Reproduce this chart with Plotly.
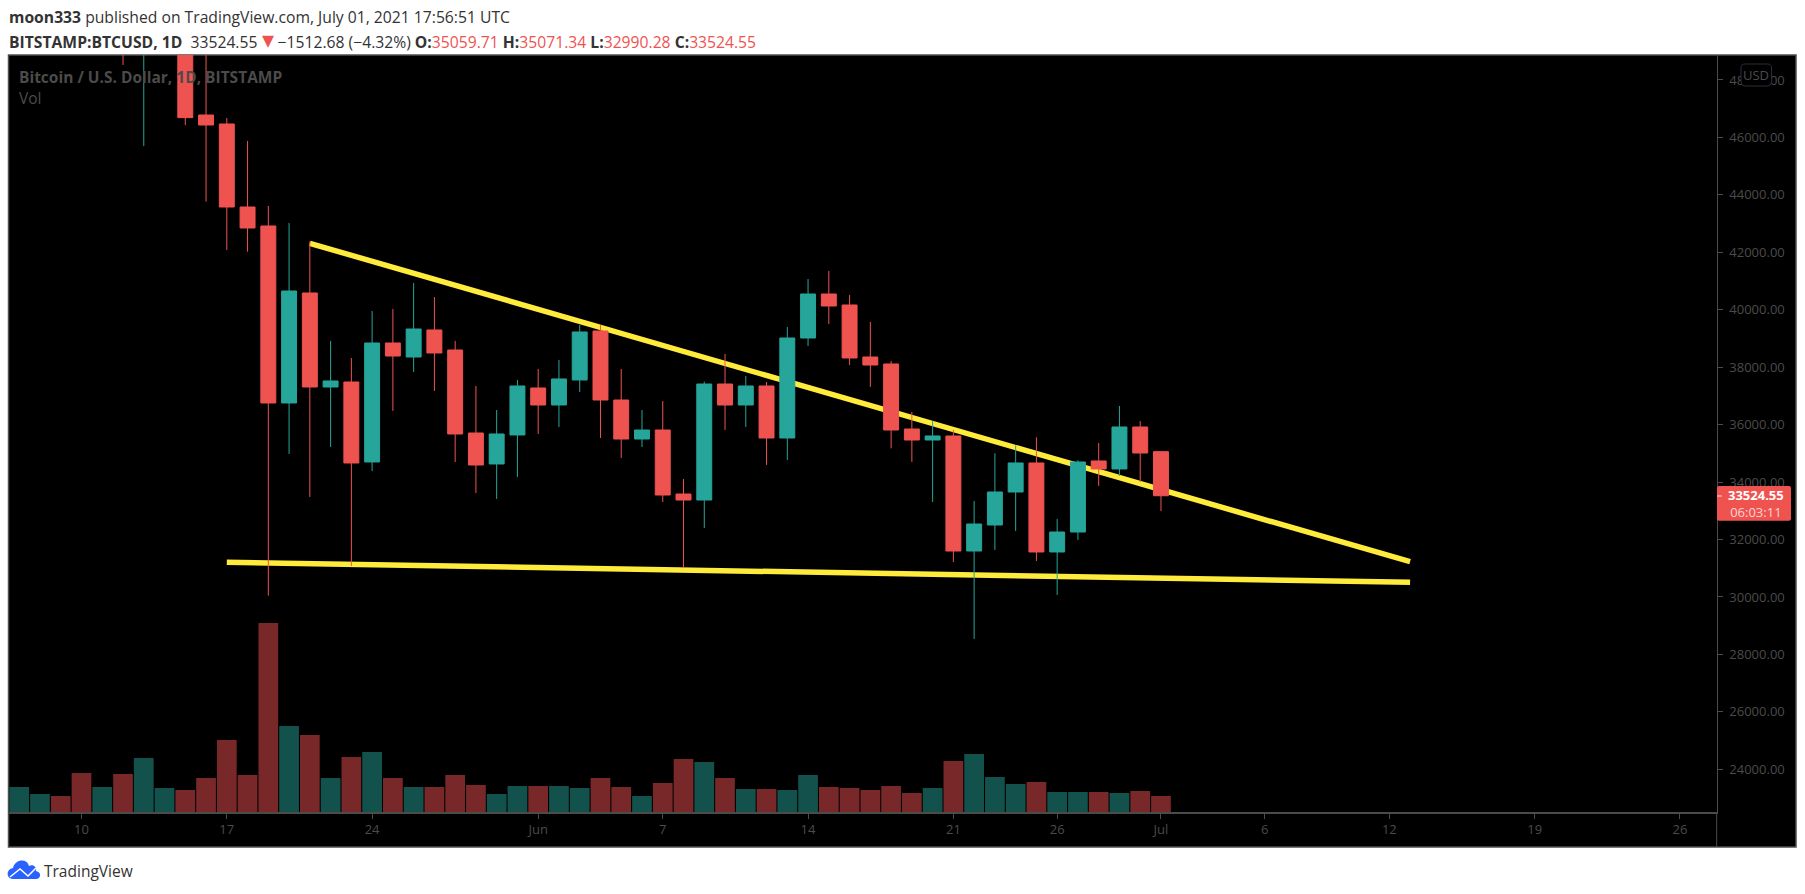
import plotly.graph_objects as go

W = 1805
H = 894

# daily candles (None = outside the visible price range)
dates = ['2021-05-%02d' % d for d in range(7, 32)] + ['2021-06-%02d' % d for d in range(1, 31)] + ['2021-07-01']
opens = [None, None, None, None, None, 56700, 49400, 49700, 49900, 46781, 46468, 43578, 42917, 36754, 40584,
         37311, 37485, 34700, 38843, 38355, 39296, 38599, 35709, 34630, 35640,
         37276, 36684, 37555, 39261, 36858, 35500, 35813, 33585, 33376, 37415, 36684, 37346, 35535, 39017, 40549,
         40166, 38355, 38112, 35848, 35465, 35605, 31600, 32506, 33655, 34665, 31566, 32262, 34735, 34456, 35918,
         35059.71]
highs = [None, None, None, None, None, 58000, 51500, 51500, 50600, 49800, 46677, 45876, 43613, 43021, 42380,
         38913, 38320, 39957, 40027, 40932, 40444, 38913, 37346, 36510, 37554,
         37938, 38251, 39470, 39470, 37938, 36510, 36823, 34108, 37500, 38460, 37694, 37485, 39400, 41071, 41350,
         40514, 39574, 38216, 36440, 36130, 35814, 33342, 35001, 35280, 35559, 32715, 34760, 35362, 36650, 36127,
         35071.34]
lows = [None, None, None, None, None, 48520, 45700, 48900, 46433, 43764, 42081, 42023, 30046, 34978, 33481,
        35222, 31079, 34386, 36476, 37833, 37172, 34700, 33620, 33412, 34178,
        35675, 35918, 37137, 35535, 34840, 35222, 33307, 31032, 32401, 35813, 35918, 34595, 34770, 38738, 39505,
        38077, 37311, 35175, 34700, 33307, 31218, 28540, 31636, 32297, 31252, 30070, 31984, 33865, 34212, 34003,
        32990.28]
closes = [None, None, None, None, None, 49400, 49700, 49900, 46689, 46433, 43578, 42847, 36754, 40653, 37311,
          37520, 34665, 38843, 38390, 39330, 38495, 35675, 34595, 35675, 37346,
          36684, 37590, 39226, 36858, 35500, 35813, 33550, 33376, 37415, 36684, 37346, 35535, 39017, 40549, 40131,
          38321, 38077, 35813, 35465, 35605, 31600, 32540, 33655, 34665, 31566, 32262, 34700, 34456, 35918, 35013,
          33524.55]
volumes = [8750, 6300, 5600, 13650, 8750, 13300, 18900, 8400, 7700, 11900, 25200, 12950, 66150, 30100, 26950,
           11900, 19250, 21000, 11900, 8750, 8750, 12950, 9450, 6300, 9100,
           9100, 9100, 8400, 11900, 8750, 5600, 10150, 18550, 17500, 11900, 8050, 8050, 7700, 12950, 8750,
           8400, 7700, 9100, 6650, 8400, 17850, 20300, 12250, 9800, 10500, 7000, 7000, 7000, 6650, 7350, 5600]
vol_up = [True, True, False, False, True, False, True, True, False, False, False, False, False, True, False,
          True, False, True, False, True, False, False, False, True, True,
          False, True, True, False, False, True, False, False, True, False, True, False, True, True, False,
          False, False, False, False, True, False, True, True, True, False, True, True, False, True, False, False]

# the two drawn trend lines
upper_dates = ['2021-05-21', '2021-07-13']
upper_prices = [42314, 31227]
lower_dates = ['2021-05-17', '2021-07-13']
lower_prices = [31206, 30510]

price_ticks = [24000, 26000, 28000, 30000, 32000, 34000, 36000, 38000, 40000, 42000, 44000, 46000, 48000]
time_ticks = ['2021-05-10', '2021-05-17', '2021-05-24', '2021-06-01', '2021-06-07', '2021-06-14', '2021-06-21',
              '2021-06-26', '2021-07-01', '2021-07-06', '2021-07-12', '2021-07-19', '2021-07-26']
time_labels = ['10', '17', '24', 'Jun', '7', '14', '21', '26', 'Jul', '6', '12', '19', '26']

UP = '#26a69a'
DOWN = '#ef5350'
YELLOW = '#ffeb3b'
GREY = '#4b4b4b'
FONT = 'Open Sans'


def px(x):
    return x / W


def py(y):
    return 1 - y / H


def round_rect(x0, y0, x1, y1, r):
    # rounded box as an svg path, pixel values from the top left corner
    pts = [('M', x0 + r, y0), ('L', x1 - r, y0), ('Q', x1, y0, x1, y0 + r), ('L', x1, y1 - r),
           ('Q', x1, y1, x1 - r, y1), ('L', x0 + r, y1), ('Q', x0, y1, x0, y1 - r), ('L', x0, y0 + r),
           ('Q', x0, y0, x0 + r, y0)]
    out = ''
    for p in pts:
        out += p[0] + ' '
        for i in range(1, len(p), 2):
            out += '%f,%f ' % (px(p[i]), py(p[i + 1]))
    return out + 'Z'


fig = go.Figure()

fig.add_trace(go.Bar(x=dates, y=volumes, yaxis='y',
                     marker=dict(color=['#13524c' if u else '#782828' for u in vol_up], line_width=0),
                     hoverinfo='skip'))
fig.add_trace(go.Scatter(x=upper_dates, y=upper_prices, yaxis='y2', mode='lines',
                         line=dict(color=YELLOW, width=5.5)))
fig.add_trace(go.Scatter(x=lower_dates, y=lower_prices, yaxis='y2', mode='lines',
                         line=dict(color=YELLOW, width=5.5)))
fig.add_trace(go.Candlestick(x=dates, open=opens, high=highs, low=lows, close=closes, yaxis='y3',
                             whiskerwidth=0,
                             increasing=dict(line=dict(color=UP, width=1), fillcolor=UP),
                             decreasing=dict(line=dict(color=DOWN, width=1), fillcolor=DOWN)))

price_range = [22513, 48870]

fig.update_layout(
    width=W, height=H, margin=dict(l=0, r=0, t=0, b=0),
    paper_bgcolor='white', plot_bgcolor='black', showlegend=False,
    boxgap=0.28, boxgroupgap=0, bargap=0.05,
    font=dict(family=FONT),
    xaxis=dict(domain=[px(8.5), px(1716.7)], type='date', anchor='y',
               range=['2021-05-06 11:37', '2021-07-27 18:29'],
               tickvals=time_ticks, ticktext=time_labels, tickangle=0,
               showgrid=False, zeroline=False, showline=True, linecolor=GREY, linewidth=1.5,
               ticks='outside', ticklen=5, tickcolor=GREY, tickwidth=1,
               tickfont=dict(family=FONT, size=13, color=GREY),
               rangeslider=dict(visible=False)),
    yaxis=dict(domain=[py(812), py(55)], range=[0, 265000], visible=False, fixedrange=True),
    yaxis2=dict(domain=[py(812), py(55)], range=price_range, overlaying='y', visible=False),
    yaxis3=dict(domain=[py(812), py(55)], range=price_range, overlaying='y', side='right', anchor='x',
                tickvals=price_ticks, tickformat='.2f',
                showgrid=False, zeroline=False, showline=True, linecolor=GREY, linewidth=1,
                ticks='outside', ticklen=5, tickcolor=GREY, tickwidth=1, ticklabelstandoff=4,
                tickfont=dict(family=FONT, size=13, color=GREY)),
    shapes=[
        # black frame behind the axes strips
        dict(type='rect', xref='paper', yref='paper', x0=px(8.5), x1=px(1796), y0=py(847), y1=py(55),
             fillcolor='black', line=dict(color='#4f4f4f', width=1.5), layer='below'),
        dict(type='line', xref='paper', yref='paper', x0=px(1716.7), x1=px(1716.7), y0=py(847), y1=py(812),
             line=dict(color=GREY, width=1)),
        # currency box and last price box
        dict(type='path', xref='paper', yref='paper', path=round_rect(1741, 64, 1771.5, 86, 4),
             fillcolor='black', line=dict(color='#2a2e39', width=1)),
        dict(type='path', xref='paper', yref='paper', path=round_rect(1717, 486, 1791, 520.7, 2),
             fillcolor=DOWN, line_width=0),
        dict(type='line', xref='paper', yref='paper', x0=px(1717), x1=px(1722), y0=py(496), y1=py(496),
             line=dict(color='rgba(255,255,255,0.8)', width=1)),
        # TradingView logo
        dict(type='path', xref='paper', yref='paper', fillcolor='#2962ff', line_width=0,
             path='M %f,%f C %f,%f %f,%f %f,%f C %f,%f %f,%f %f,%f C %f,%f %f,%f %f,%f C %f,%f %f,%f %f,%f Z' % (
                 px(12), py(879),
                 px(6), py(878), px(6), py(869), px(13), py(868),
                 px(15), py(859), px(27), py(858), px(29), py(866),
                 px(33), py(864), px(37), py(867), px(36), py(871),
                 px(42), py(872), px(41), py(879), px(36), py(879))),
        dict(type='path', xref='paper', yref='paper', line=dict(color='white', width=1.5),
             path='M %f,%f L %f,%f L %f,%f L %f,%f' % (
                 px(10), py(877), px(20), py(869), px(28), py(876), px(36), py(868))),
    ],
    annotations=[
        dict(xref='paper', yref='paper', x=px(7), y=py(17), xanchor='left', yanchor='middle', showarrow=False,
             text='<b>moon333</b> published on TradingView.com, July 01, 2021 17:56:51 UTC',
             font=dict(family=FONT, size=15.7, color='#333333')),
        dict(xref='paper', yref='paper', x=px(7), y=py(38.7), xanchor='left', yanchor='middle', showarrow=False,
             text='<b>BITSTAMP:BTCUSD, 1D</b>  33524.55 <span style="color:#ef5350;font-size:24px">▾</span> −1512.68 (−4.32%) '
                  '<b>O:</b><span style="color:#ef5350">35059.71</span> '
                  '<b>H:</b><span style="color:#ef5350">35071.34</span> '
                  '<b>L:</b><span style="color:#ef5350">32990.28</span> '
                  '<b>C:</b><span style="color:#ef5350">33524.55</span>',
             font=dict(family=FONT, size=15.7, color='#333333')),
        dict(xref='paper', yref='paper', x=px(17), y=py(77), xanchor='left', yanchor='middle', showarrow=False,
             text='<b>Bitcoin / U.S. Dollar, 1D, BITSTAMP</b>', font=dict(family=FONT, size=15.5, color=GREY)),
        dict(xref='paper', yref='paper', x=px(17), y=py(98), xanchor='left', yanchor='middle', showarrow=False,
             text='Vol', font=dict(family=FONT, size=15.5, color=GREY)),
        dict(xref='paper', yref='paper', x=px(1756.2), y=py(75), xanchor='center', yanchor='middle', showarrow=False,
             text='USD', font=dict(family=FONT, size=13, color=GREY)),
        dict(xref='paper', yref='paper', x=px(1755.5), y=py(503.5), xanchor='center', yanchor='middle',
             showarrow=False, text='<b>33524.55</b><br><span style="color:rgba(255,255,255,0.75)">06:03:11</span>',
             align='center', font=dict(family=FONT, size=13, color='white')),
        dict(xref='paper', yref='paper', x=px(42), y=py(870.5), xanchor='left', yanchor='middle', showarrow=False,
             text='TradingView', font=dict(family=FONT, size=15.5, color='#333333')),
    ],
)

fig.write_html('out.html', config=dict(displayModeBar=False),
               post_script="document.body.style.margin='0';document.body.style.overflow='hidden';")
